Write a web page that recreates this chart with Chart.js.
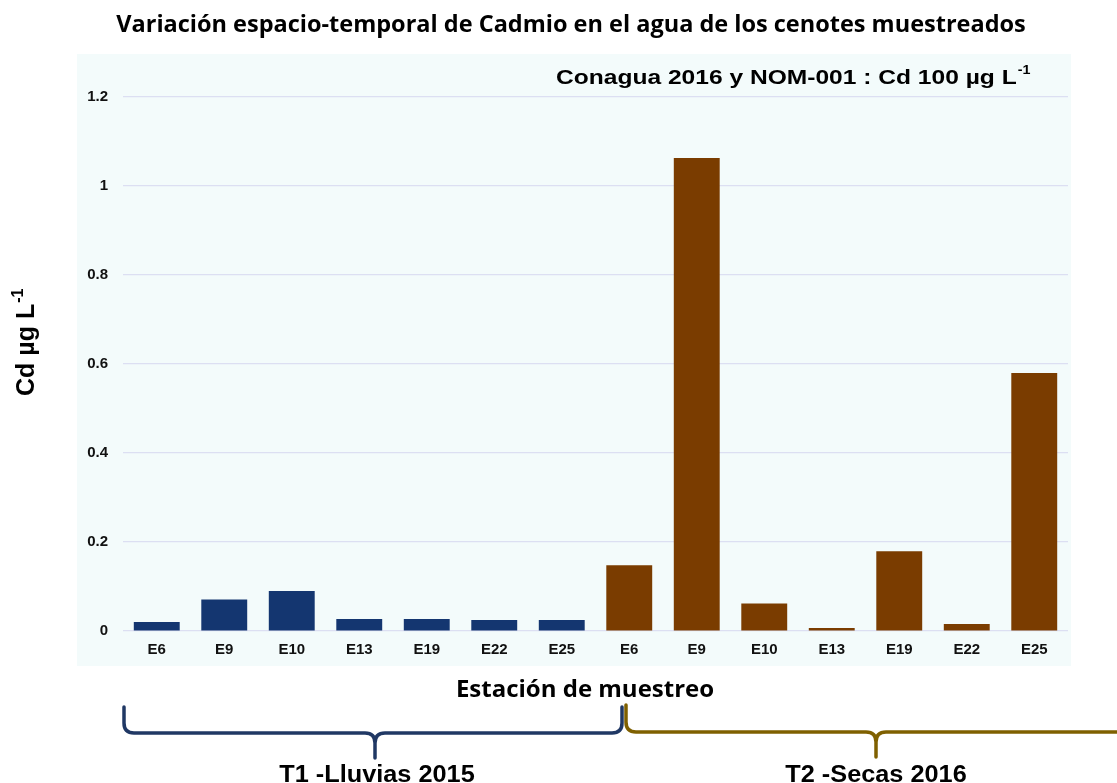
<!DOCTYPE html>
<html lang="es">
<head>
<meta charset="utf-8">
<title>Cadmio en cenotes</title>
<script src="https://cdn.jsdelivr.net/npm/chart.js@4.4.1/dist/chart.umd.min.js"></script>
<style>
  html, body { margin: 0; padding: 0; background: #ffffff; }
  #wrap { width: 1117px; height: 783px; position: relative; }
</style>
</head>
<body>
<div id="wrap"><canvas id="grafica" width="1117" height="783"></canvas></div>
<script>
// Estaciones muestreadas (se repiten en cada temporada)
const estaciones = ["E6", "E9", "E10", "E13", "E19", "E22", "E25"];
// Cd en µg/L por estación
const lluvias2015 = [0.02, 0.071, 0.09, 0.027, 0.027, 0.025, 0.025];
const secas2016 = [0.148, 1.063, 0.062, 0.007, 0.179, 0.016, 0.58];
const ticksY = [0, 0.2, 0.4, 0.6, 0.8, 1, 1.2];

const colorLluvias = "#143670";
const colorSecas = "#7a3c00";

const etiquetas = estaciones.concat(estaciones);
const valores = lluvias2015.concat(secas2016);
const colores = valores.map((v, i) => (i < estaciones.length ? colorLluvias : colorSecas));

const FUENTE_CAL = "'Open Sans', 'Liberation Sans', sans-serif";
const FUENTE_ARIAL = "'Liberation Sans', Arial, sans-serif";

// Fondo del área de la gráfica
const fondo = {
  id: "fondo",
  beforeDraw(chart) {
    const ctx = chart.ctx;
    ctx.save();
    ctx.fillStyle = "#f3fbfb";
    ctx.fillRect(77, 54, 994, 612);
    ctx.restore();
  },
};

// Texto con un poco de estiramiento horizontal; devuelve el ancho final
function texto(ctx, str, x, y, font, align, sx) {
  ctx.save();
  ctx.font = font;
  const w = ctx.measureText(str).width * sx;
  let x0 = x;
  if (align === "center") x0 = x - w / 2;
  else if (align === "right") x0 = x - w;
  ctx.translate(x0, y);
  ctx.scale(sx, 1);
  ctx.textAlign = "left";
  ctx.fillText(str, 0, 0);
  ctx.restore();
  return w;
}

// Llave horizontal con punta central hacia abajo
function llave(ctx, x1, x2, xm, yTop, yBase, yTip, color) {
  const r = 10;
  ctx.save();
  ctx.strokeStyle = color;
  ctx.lineWidth = 3.5;
  ctx.lineCap = "round";
  ctx.lineJoin = "round";
  ctx.beginPath();
  ctx.moveTo(x1, yTop);
  ctx.lineTo(x1, yBase - r);
  ctx.quadraticCurveTo(x1, yBase, x1 + r, yBase);
  ctx.lineTo(xm - r, yBase);
  ctx.quadraticCurveTo(xm, yBase, xm, yBase + r);
  ctx.lineTo(xm, yTip);
  ctx.moveTo(xm, yBase + r);
  ctx.quadraticCurveTo(xm, yBase, xm + r, yBase);
  ctx.lineTo(x2 - r, yBase);
  ctx.quadraticCurveTo(x2, yBase, x2, yBase - r);
  ctx.lineTo(x2, yTop);
  ctx.stroke();
  ctx.restore();
}

// Títulos, anotación y llaves de temporada
const textos = {
  id: "textos",
  afterDraw(chart) {
    const ctx = chart.ctx;
    ctx.save();
    ctx.fillStyle = "#000000";
    ctx.textBaseline = "alphabetic";

    texto(ctx, "Variación espacio-temporal de Cadmio en el agua de los cenotes muestreados",
      571, 32, "bold 23.5px " + FUENTE_CAL, "center", 1);

    // Anotación de la norma
    const wNota = texto(ctx, "Conagua 2016 y NOM-001 : Cd 100 µg L", 556, 84,
      "bold 21px " + FUENTE_ARIAL, "left", 1.17);
    texto(ctx, "-1", 556 + wNota + 1, 74, "bold 13px " + FUENTE_ARIAL, "left", 1.1);

    // Título del eje Y
    ctx.save();
    ctx.translate(34, 396);
    ctx.rotate(-Math.PI / 2);
    ctx.font = "bold 25px " + FUENTE_ARIAL;
    const ejeY = "Cd µg L";
    const wY = ctx.measureText(ejeY).width;
    ctx.textAlign = "left";
    ctx.fillText(ejeY, 0, 0);
    ctx.font = "bold 16px " + FUENTE_ARIAL;
    ctx.fillText("-1", wY + 1, -11);
    ctx.restore();

    // Título del eje X
    texto(ctx, "Estación de muestreo", 585, 697, "bold 24px " + FUENTE_CAL, "center", 1);

    llave(ctx, 124, 622, 375, 707, 733, 758, "#203864");
    llave(ctx, 626, 1160, 876, 705, 732, 757, "#7f6000");

    texto(ctx, "T1 -Lluvias 2015", 377, 782, "bold 23px " + FUENTE_ARIAL, "center", 1.1);
    texto(ctx, "T2 -Secas 2016", 876, 782, "bold 23px " + FUENTE_ARIAL, "center", 1.1);
    ctx.restore();
  },
};

new Chart(document.getElementById("grafica"), {
  type: "bar",
  data: {
    labels: etiquetas,
    datasets: [
      {
        data: valores,
        backgroundColor: colores,
        borderWidth: 0,
        categoryPercentage: 1,
        barPercentage: 0.68,
      },
    ],
  },
  options: {
    responsive: false,
    animation: false,
    layout: { padding: { top: 97, right: 49, bottom: 112, left: 0 } },
    plugins: {
      legend: { display: false },
      tooltip: { enabled: false },
    },
    scales: {
      x: {
        grid: { display: false, drawTicks: false },
        border: { display: false },
        ticks: {
          color: "#111111",
          font: { family: FUENTE_ARIAL, size: 15, weight: "bold" },
          padding: 10,
          autoSkip: false,
          maxRotation: 0,
        },
        afterFit(scale) {
          scale.height = 40;
        },
      },
      y: {
        min: 0,
        max: 1.2,
        afterBuildTicks(scale) {
          scale.ticks = ticksY.map((v) => ({ value: v }));
        },
        grid: { color: "#dcdff2", lineWidth: 1.2, drawTicks: false },
        border: { display: false },
        ticks: {
          color: "#111111",
          font: { family: FUENTE_ARIAL, size: 15, weight: "bold" },
          padding: 15,
          callback: (v) => String(Number(v.toFixed(1))),
        },
        afterFit(scale) {
          scale.width = 123;
        },
      },
    },
  },
  plugins: [fondo, textos],
});
</script>
</body>
</html>
